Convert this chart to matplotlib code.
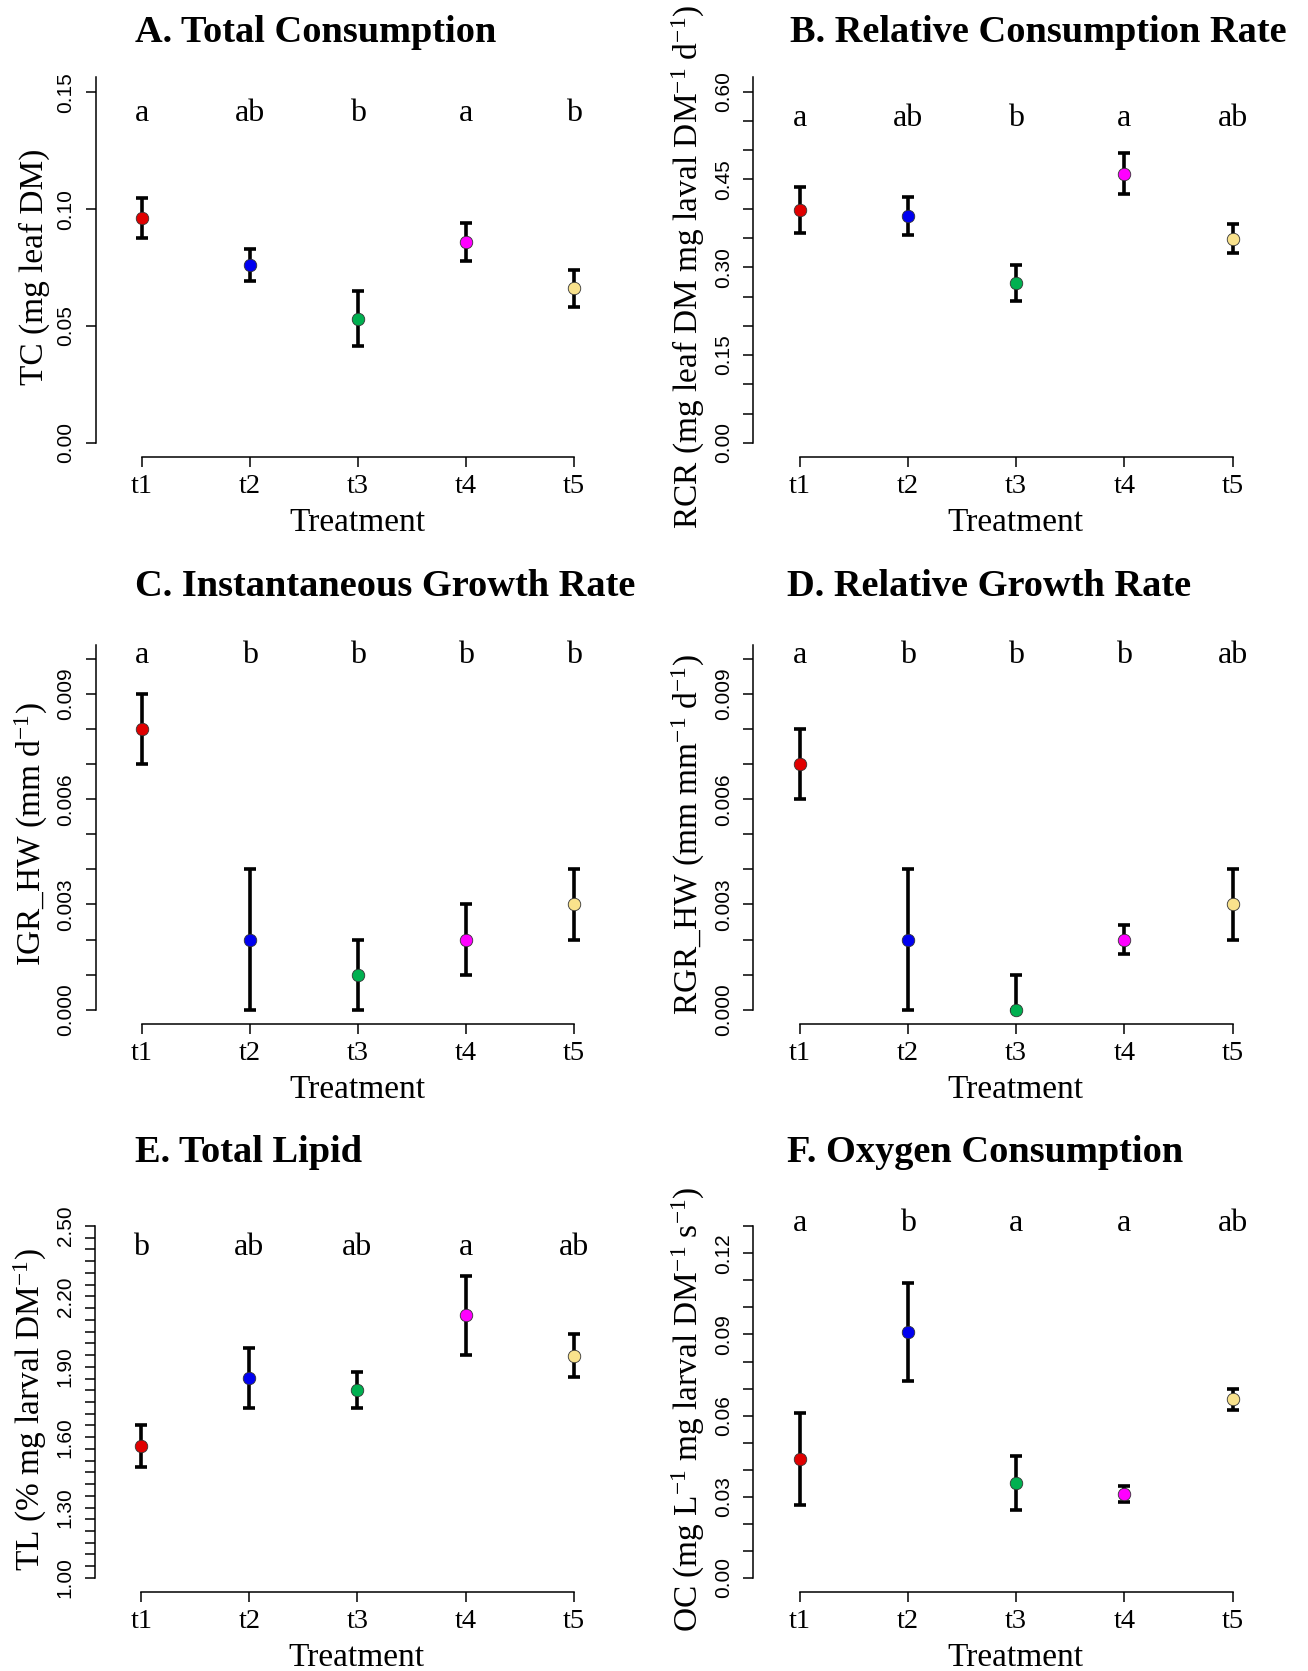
import numpy as np
import matplotlib
matplotlib.use('Agg')
import matplotlib.pyplot as plt

plt.rcParams['font.family'] = ['Liberation Serif', 'DejaVu Serif']
plt.rcParams['mathtext.fontset'] = 'custom'
plt.rcParams['mathtext.rm'] = 'Liberation Serif'
plt.rcParams['mathtext.it'] = 'Liberation Serif:italic'
plt.rcParams['mathtext.bf'] = 'Liberation Serif:bold'

# ---- data ----
treatments = ['t1', 't2', 't3', 't4', 't5']
point_colors = ['#E00000', '#0000F0', '#00B050', '#FF00FF', '#F9E28C']

tc_mean = [0.0963, 0.0762, 0.0532, 0.0861, 0.0661]
tc_se = [0.0086, 0.0069, 0.0118, 0.0081, 0.0078]
tc_letters = ['a', 'ab', 'b', 'a', 'b']

rcr_mean = [0.398, 0.388, 0.273, 0.460, 0.349]
rcr_se = [0.039, 0.032, 0.031, 0.035, 0.025]
rcr_letters = ['a', 'ab', 'b', 'a', 'ab']

igr_mean = [0.008, 0.002, 0.001, 0.002, 0.003]
igr_se = [0.001, 0.002, 0.001, 0.001, 0.001]
igr_letters = ['a', 'b', 'b', 'b', 'b']

rgr_mean = [0.007, 0.002, 0.000, 0.002, 0.003]
rgr_se_low = [0.001, 0.002, 0.0, 0.0004, 0.001]
rgr_se_high = [0.001, 0.002, 0.001, 0.0004, 0.001]
rgr_letters = ['a', 'b', 'b', 'b', 'ab']

tl_mean = [1.562, 1.853, 1.801, 2.119, 1.947]
tl_se = [0.088, 0.129, 0.078, 0.168, 0.091]
tl_letters = ['b', 'ab', 'ab', 'a', 'ab']

oc_mean = [0.0440, 0.0909, 0.0350, 0.0311, 0.0660]
oc_se = [0.0171, 0.0180, 0.0100, 0.0030, 0.0040]
oc_letters = ['a', 'b', 'a', 'a', 'ab']

W, H = 1308, 1671
fig = plt.figure(figsize=(W / 100, H / 100), dpi=100)


def px_axes(left, top, right, bottom):
    return fig.add_axes([left / W, 1 - bottom / H,
                         (right - left) / W, (bottom - top) / H])


def draw_panel(box, title, title_xy, mean, err, letters, letter_y,
               ylim, yticks, ylabeled, fmt, ylabel):
    ax = px_axes(*box)
    x = np.arange(1, len(treatments) + 1)
    ax.errorbar(x, mean, yerr=err, fmt='none', ecolor='black',
                elinewidth=2.6, capsize=4, capthick=2.6, zorder=2)
    for i in range(len(x)):
        ax.plot(x[i], mean[i], 'o', ms=9, mfc=point_colors[i],
                mec='#333333', mew=0.6, zorder=3)
    for i in range(len(x)):
        ax.text(x[i], letter_y, letters[i], ha='center', va='baseline',
                fontsize=23, clip_on=False)

    ax.set_xlim(0.57, 5.42)
    ax.set_ylim(*ylim)
    ax.set_xticks(x, treatments)
    labels = [fmt % t if np.any(np.isclose(t, ylabeled)) else ''
              for t in yticks]
    ax.set_yticks(yticks, labels)

    for s in ['top', 'right']:
        ax.spines[s].set_visible(False)
    for s in ['left', 'bottom']:
        ax.spines[s].set_linewidth(1.1)
    ax.spines['bottom'].set_bounds(1, 5)
    ax.spines['left'].set_bounds(yticks[0], ylim[1])

    ax.tick_params(axis='both', direction='out', length=7.5, width=1.1)
    ax.tick_params(axis='x', labelsize=20.5, pad=5)
    ax.tick_params(axis='y', labelsize=15, pad=7, labelrotation=90,
                   labelfontfamily='Liberation Sans')
    for lab in ax.get_yticklabels():
        lab.set_va('center')

    ax.set_xlabel('Treatment', fontsize=24, labelpad=6)
    ax.set_ylabel(ylabel, fontsize=24, labelpad=5)

    fig.text(title_xy[0] / W, 1 - title_xy[1] / H, title, ha='left',
             va='baseline', fontsize=27.6, fontweight='bold')
    return ax


draw_panel((95.6, 77, 619, 457), 'A. Total Consumption', (135, 42.5),
           tc_mean, tc_se, tc_letters, 0.1376,
           (-0.006, 0.1565), [0.0, 0.05, 0.10, 0.15],
           [0.0, 0.05, 0.10, 0.15], '%.2f', 'TC (mg leaf DM)')

draw_panel((753, 77, 1278, 457), 'B. Relative Consumption Rate', (790, 42.5),
           rcr_mean, rcr_se, rcr_letters, 0.542,
           (-0.024, 0.625), list(np.arange(0, 0.601, 0.05)),
           [0.0, 0.15, 0.30, 0.45, 0.60], '%.2f',
           r'RCR (mg leaf DM mg laval DM$^{\mathrm{-1}}$ d$^{\mathrm{-1}}$)')

draw_panel((95.6, 645, 619, 1024), 'C. Instantaneous Growth Rate', (135, 596.5),
           igr_mean, igr_se, igr_letters, 0.00988,
           (-0.00041, 0.0104), list(np.arange(0, 0.01001, 0.001)),
           [0.0, 0.003, 0.006, 0.009], '%.3f',
           r'IGR_HW (mm d$^{\mathrm{-1}}$)')

draw_panel((753, 645, 1278, 1024), 'D. Relative Growth Rate', (787, 596.5),
           rgr_mean, [rgr_se_low, rgr_se_high], rgr_letters, 0.00988,
           (-0.00041, 0.0104), list(np.arange(0, 0.01001, 0.001)),
           [0.0, 0.003, 0.006, 0.009], '%.3f',
           r'RGR_HW (mm mm$^{\mathrm{-1}}$ d$^{\mathrm{-1}}$)')

draw_panel((94.8, 1226, 619, 1592), 'E. Total Lipid', (135, 1161.5),
           tl_mean, tl_se, tl_letters, 2.376,
           (0.94, 2.5), list(np.arange(1.0, 2.501, 0.05)),
           [1.0, 1.3, 1.6, 1.9, 2.2, 2.5], '%.2f',
           r'TL (% mg larval DM$^{\mathrm{-1}}$)')

draw_panel((753, 1226, 1278, 1592), 'F. Oxygen Consumption', (787, 1161.5),
           oc_mean, oc_se, oc_letters, 0.1283,
           (-0.0052, 0.1301), list(np.arange(0, 0.1301, 0.01)),
           [0.0, 0.03, 0.06, 0.09, 0.12], '%.2f',
           r'OC (mg L$^{\mathrm{-1}}$ mg larval DM$^{\mathrm{-1}}$ s$^{\mathrm{-1}}$)')

fig.savefig('out.png', dpi=100)
